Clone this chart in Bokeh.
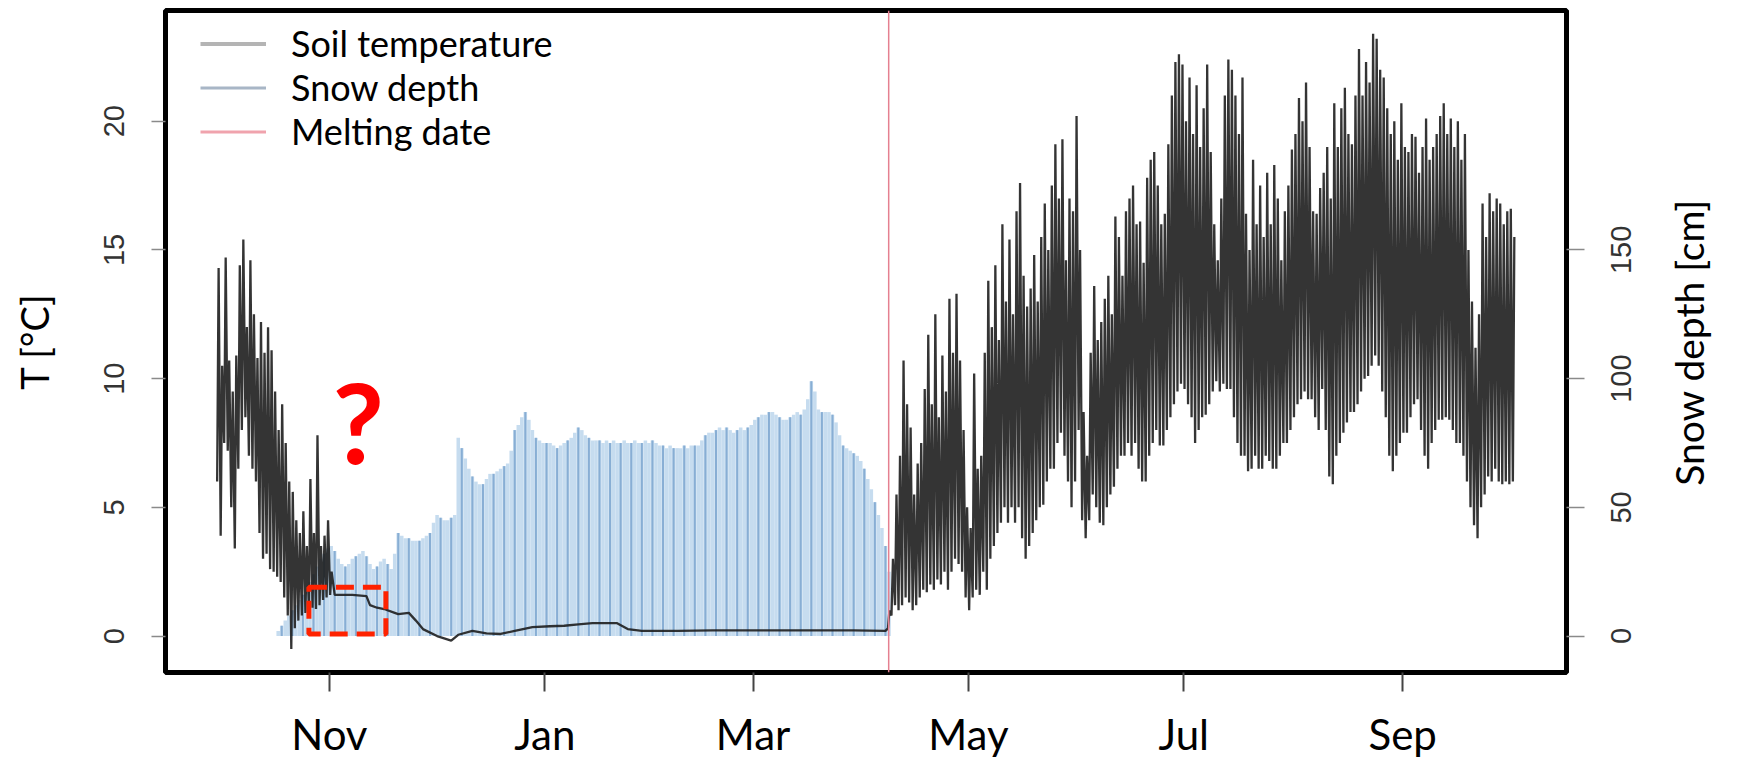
import math
import datetime as dt
from bokeh.plotting import figure
from bokeh.models import (Range1d, LinearAxis, FixedTicker, DatetimeTickFormatter,
                          Span, Label, BoxAnnotation, Legend, LegendItem, ColumnDataSource)
from bokeh.embed import file_html
from bokeh.resources import INLINE

# ---------------- data ----------------
START = dt.datetime(2014, 9, 30)          # day 0 of the series

# Soil temperature, autumn: daily max / min (°C), days 0..32
autumn_hi = [14.3, 10.5, 14.7, 10.7, 9.5, 10.9, 14.4, 15.4, 12.0, 14.6,
             12.5, 10.8, 12.2, 11.0, 12.0, 11.1, 9.5, 8.0, 9.0, 7.5,
             6.0, 5.6, 4.5, 4.0, 4.85, 3.5, 6.1, 4.0, 7.8, 3.5,
             3.9, 4.5, 2.5]
autumn_lo = [6.0, 3.9, 7.5, 7.2, 5.0, 3.4, 6.5, 8.0, 8.5, 7.0,
             6.5, 6.0, 4.0, 3.0, 3.2, 2.6, 2.5, 2.3, 2.1, 1.5,
             0.8, -0.5, 0.3, 0.6, 0.8, 0.9, 1.0, 1.1, 1.05, 1.2,
             1.4, 1.5, 1.6]

# Soil temperature under the snow (°C), sampled days
winter_days = [33, 38, 42, 43, 45, 47, 50, 51, 54, 56, 58, 62, 66, 68, 72, 76,
               80, 84, 89, 94, 98, 102, 106, 110, 113, 116, 120, 130, 140, 150,
               160, 170, 180, 189]
winter_t = [1.6, 1.6, 1.55, 1.2, 1.1, 1.05, 0.9, 0.85, 0.9, 0.6, 0.27, 0.0, -0.18,
            0.05, 0.2, 0.1, 0.08, 0.2, 0.35, 0.38, 0.4, 0.45, 0.5, 0.5, 0.5, 0.27,
            0.2, 0.2, 0.22, 0.22, 0.22, 0.22, 0.22, 0.2]

# Soil temperature after melt: daily max / min (°C), from day 190
SUMMER_START = 190
summer_hi = [1.0, 3.0, 5.5, 7.0, 10.7, 9.0, 8.1, 5.5, 6.7, 7.5,
             9.6, 11.7, 9.0, 12.5, 8.5, 10.9, 9.5, 13.1, 11.0, 13.3,
             10.7, 8.0, 5.0, 4.2, 10.2, 6.5, 7.0, 11.0, 13.8, 12.0,
             14.4, 11.5, 16.0, 13.0, 15.4, 12.5, 16.5, 17.6, 14.0, 12.8,
             13.5, 14.8, 13.0, 15.5, 16.8, 15.0, 17.5, 19.1, 17.0, 19.3,
             14.6, 17.0, 16.5, 20.2, 15.0, 8.7, 7.0, 11.0, 13.6, 11.5,
             12.2, 13.1, 14.0, 12.5, 16.3, 15.5, 14.0, 16.5, 17.0, 17.5,
             16.0, 16.1, 14.5, 17.8, 18.5, 18.8, 17.5, 16.0, 16.4, 19.1,
             21.0, 22.3, 22.6, 22.2, 20.0, 21.7, 19.5, 21.4, 19.0, 20.5,
             22.2, 18.8, 16.0, 14.6, 17.0, 21.0, 22.4, 22.0, 21.0, 19.5,
             21.7, 16.4, 15.0, 18.5, 16.0, 17.5, 15.5, 18.0, 16.0, 18.3,
             17.0, 14.6, 16.5, 17.5, 18.9, 19.5, 20.9, 20.0, 21.5, 19.0,
             16.5, 16.4, 17.4, 18.0, 19.0, 17.0, 20.7, 19.0, 20.5, 21.3,
             19.5, 19.1, 21.0, 22.8, 21.0, 22.3, 21.5, 23.4, 23.2, 22.0,
             21.7, 20.5, 19.5, 20.0, 18.5, 20.7, 19.0, 18.8, 19.5, 19.4,
             18.0, 19.0, 20.1, 18.5, 19.0, 19.5, 20.2, 20.7, 19.5, 20.1,
             19.0, 20.0, 18.5, 19.5, 15.0, 13.0, 11.2, 12.5, 16.8, 15.5,
             17.2, 16.5, 17.0, 16.8, 16.0, 16.5, 16.6, 15.5]
summer_lo = [0.3, 0.8, 1.2, 1.0, 1.2, 1.5, 1.3, 1.0, 1.2, 1.5,
             1.8, 1.7, 2.0, 1.8, 2.2, 2.0, 2.5, 1.8, 2.5, 3.0,
             2.8, 2.5, 1.5, 1.0, 1.5, 1.8, 1.6, 2.5, 1.8, 3.0,
             3.5, 4.0, 4.4, 5.0, 4.4, 5.0, 4.4, 5.0, 3.8, 3.0,
             3.5, 4.0, 4.5, 5.0, 5.1, 6.0, 6.5, 6.5, 7.5, 7.9,
             7.0, 6.0, 5.0, 6.0, 8.0, 4.5, 3.8, 4.5, 5.5, 5.0,
             4.4, 4.3, 5.0, 5.5, 5.8, 6.5, 7.0, 7.0, 7.5, 7.0,
             7.5, 6.5, 6.0, 6.0, 7.0, 7.5, 8.0, 7.4, 7.4, 8.0,
             8.5, 9.0, 9.5, 9.8, 9.6, 9.0, 8.5, 7.5, 8.0, 8.5,
             8.6, 9.0, 9.5, 9.9, 9.5, 9.8, 9.6, 9.6, 8.5, 7.5,
             7.0, 7.0, 6.4, 6.5, 7.0, 6.5, 6.5, 7.0, 6.8, 6.5,
             6.5, 7.0, 7.5, 7.5, 8.0, 8.5, 9.0, 9.2, 9.5, 9.2,
             9.2, 8.5, 8.0, 9.6, 8.0, 6.2, 5.9, 7.0, 7.5, 7.9,
             8.3, 8.7, 8.7, 9.0, 9.5, 10.0, 10.1, 10.5, 10.9, 10.5,
             9.5, 8.5, 7.0, 6.4, 7.0, 7.5, 7.9, 7.9, 8.5, 9.0,
             9.2, 8.0, 7.0, 6.5, 7.5, 8.0, 8.4, 8.4, 8.5, 8.4,
             8.0, 7.5, 7.5, 7.0, 6.0, 5.0, 4.3, 3.8, 5.0, 5.5,
             6.2, 6.0, 6.5, 6.0, 5.9, 6.0, 5.9, 6.0]

# Snow depth (cm), daily from day 17
SNOW_START = 17
snow_cm = [2, 4, 6, 8, 10, 12, 14, 16, 18, 21, 24, 27, 30, 32, 34,
           35, 33, 30, 28, 27, 28, 30, 31, 32, 33,
           31, 28, 26, 27, 29, 30, 28, 26, 32, 40,
           39, 38, 38, 37, 37, 37, 38, 39, 40, 44,
           47, 46, 45, 45, 46, 47, 77, 73, 69, 65,
           62, 60, 59, 59, 61, 63, 63, 64, 65, 66,
           67, 72, 80, 82, 85, 87, 84, 80, 77, 76,
           75, 75, 75, 74, 73, 74, 75, 76, 77, 79,
           81, 80, 78, 77, 76, 76, 76, 75, 76, 75,
           76, 75, 75, 76, 75, 75, 76, 75, 75, 76,
           75, 76, 75, 74, 74, 73, 74, 73, 73, 73,
           74, 73, 74, 74, 74, 76, 78, 79, 79, 80,
           81, 80, 81, 80, 79, 80, 81, 80, 81, 82,
           84, 85, 86, 86, 87, 87, 86, 85, 84, 84,
           85, 86, 87, 86, 88, 92, 99, 95, 88, 87,
           87, 87, 86, 83, 78, 74, 73, 72, 71, 70,
           68, 65, 61, 57, 52, 47, 42, 35, 25]

MELT_DATE = dt.datetime(2015, 4, 8, 10)
month_ticks = [dt.datetime(2014, 11, 1), dt.datetime(2015, 1, 1), dt.datetime(2015, 3, 1),
               dt.datetime(2015, 5, 1), dt.datetime(2015, 7, 1), dt.datetime(2015, 9, 1)]
t_ticks = [0, 5, 10, 15, 20]
snow_ticks = [0, 50, 100, 150]
legend_labels = ["Soil temperature", "Snow depth", "Melting date"]
left_title = "T [°C]"
right_title = "Snow depth [cm]"

# annotation placement (question mark, dashed box)
Q_DAY, Q_T = 40.2, 8.36
BOX_DAYS = (26.2, 48.0)
BOX_T = (0.08, 1.90)

# ---------------- helpers ----------------
EPOCH = dt.datetime(1970, 1, 1)


def ms(d):
    return (d - EPOCH).total_seconds() * 1000.0


def at(day, hour=0.0):
    return START + dt.timedelta(days=day, hours=hour)


t_x, t_y = [], []
for i, (lo, hi) in enumerate(zip(autumn_lo, autumn_hi)):
    t_x += [at(i, 5), at(i, 15)]
    t_y += [lo, hi]
for d, v in zip(winter_days, winter_t):
    t_x.append(at(d, 12))
    t_y.append(v)
for i, (lo, hi) in enumerate(zip(summer_lo, summer_hi)):
    t_x += [at(SUMMER_START + i, 5), at(SUMMER_START + i, 15)]
    t_y += [lo, hi]

snow_x = [at(SNOW_START + i, 12) for i in range(len(snow_cm))]
snow_src = ColumnDataSource(dict(x=snow_x, top=snow_cm))
stripe_idx = [i for i in range(len(snow_cm)) if i % 3 == 1]
stripe_src = ColumnDataSource(dict(x=[snow_x[i] for i in stripe_idx],
                                   y0=[0] * len(stripe_idx),
                                   y1=[snow_cm[i] for i in stripe_idx]))

# ---------------- figure ----------------
Y0, Y1 = -1.416, 24.30
FRAME_H = 663
p = figure(width=1738, height=761, output_backend="svg", toolbar_location=None,
           x_axis_type="datetime",
           x_range=Range1d(ms(at(-14.42)), ms(at(382.4))),
           y_range=Range1d(Y0, Y1),
           min_border_left=165, min_border_right=171, min_border_top=10, min_border_bottom=88)
p.extra_y_ranges = {"snow": Range1d(Y0 * 10, Y1 * 10)}
p.xgrid.visible = False
p.ygrid.visible = False
p.background_fill_color = "white"
p.border_fill_color = "white"
p.outline_line_color = "black"
p.outline_line_width = 5

# snow depth bars
p.vbar(x="x", top="top", bottom=0, width=86400000, source=snow_src, y_range_name="snow",
       fill_color="#c6dcef", line_color=None)
p.segment(x0="x", y0="y0", x1="x", y1="y1", source=stripe_src, y_range_name="snow",
          line_color="#88aed4", line_width=2)

# soil temperature
p.line(t_x, t_y, line_color="#1e1e1e", line_width=2.3, line_alpha=0.9)

# melting date
p.add_layout(Span(location=ms(MELT_DATE), dimension="height",
                  line_color="#e58090", line_width=1.5))

# legend (pale samples as in the original); the sample renderers lie outside the view
off_x = [ms(at(-200)), ms(at(-199))]
off_y = [-50, -50]
r1 = p.line(off_x, off_y, line_color="#b4b4b4", line_width=4)
r2 = p.line(off_x, off_y, line_color="#a8b6c6", line_width=3)
r3 = p.line(off_x, off_y, line_color="#f0a3ad", line_width=3)
leg = Legend(items=[LegendItem(label=legend_labels[0], renderers=[r1]),
                    LegendItem(label=legend_labels[1], renderers=[r2]),
                    LegendItem(label=legend_labels[2], renderers=[r3])],
             location=(35, 519), border_line_color=None, background_fill_alpha=0,
             padding=0, margin=0, spacing=0, glyph_width=66, glyph_height=43,
             label_height=43, label_standoff=25,
             label_text_font="Lato", label_text_font_size="36px", label_text_color="black")
p.add_layout(leg)

# annotations
p.add_layout(Label(x=ms(at(Q_DAY)), y=Q_T, text="?", text_font="Lato", text_font_size="112px",
                   text_font_style="bold",
                   text_color="#ff0000", text_align="center", text_baseline="middle"))
p.add_layout(BoxAnnotation(left=ms(at(BOX_DAYS[0])), right=ms(at(BOX_DAYS[1])),
                           bottom=BOX_T[0], top=BOX_T[1], fill_alpha=0,
                           line_color="#ff2200", line_alpha=1.0, line_width=5,
                           line_dash="18 9"))

# x axis
xa = p.xaxis[0]
xa.ticker = FixedTicker(ticks=[ms(d) for d in month_ticks])
xa.formatter = DatetimeTickFormatter(days="%b", months="%b", years="%b", hours="%b")
xa.axis_line_color = None
xa.major_tick_out = 19
xa.major_tick_in = 0
xa.major_tick_line_color = "#444444"
xa.major_tick_line_width = 2
xa.minor_tick_line_color = None
xa.major_label_standoff = 17
xa.major_label_text_font = "Lato"
xa.major_label_text_font_size = "42px"
xa.major_label_text_color = "black"

# left axis
ya = p.yaxis[0]
ya.ticker = FixedTicker(ticks=t_ticks)
ya.axis_line_color = None
ya.major_tick_out = 14
ya.major_tick_in = 0
ya.major_tick_line_color = "#8a8a8a"
ya.major_tick_line_width = 1.5
ya.minor_tick_line_color = None
ya.major_label_orientation = "vertical"
ya.major_label_standoff = 27
ya.major_label_text_font = "Liberation Sans"
ya.major_label_text_font_size = "29px"
ya.major_label_text_color = "#333333"
ya.axis_label = left_title
ya.axis_label_standoff = 45
ya.axis_label_text_font = "Lato"
ya.axis_label_text_font_size = "38px"
ya.axis_label_text_font_style = "normal"
ya.axis_label_text_color = "black"

# ---- right side: snow-depth ticks with bottom-to-top labels, then the title ----
CM_PX = FRAME_H / ((Y1 - Y0) * 10)        # pixels per cm on the right scale


def start_of(center_cm, text_px):
    # rotated labels are drawn from their start: shift so that they end up centred
    return round(center_cm - text_px / 2 / CM_PX, 1)


NUM_PX = 29 * 0.556                       # width of one digit
num_pos = [start_of(v, len(str(v)) * NUM_PX) for v in snow_ticks]
rl = LinearAxis(y_range_name="snow",
                ticker=FixedTicker(ticks=num_pos, minor_ticks=snow_ticks),
                major_label_overrides={pos: str(v) for pos, v in zip(num_pos, snow_ticks)})
rl.axis_line_color = None
rl.major_tick_line_color = None
rl.major_tick_out = 18
rl.major_tick_in = 0
rl.minor_tick_out = 18
rl.minor_tick_in = 0
rl.minor_tick_line_color = "#8a8a8a"
rl.minor_tick_line_width = 1.5
rl.major_label_orientation = math.pi / 2
rl.major_label_standoff = 37
rl.major_label_text_font = "Liberation Sans"
rl.major_label_text_font_size = "29px"
rl.major_label_text_color = "#333333"
p.add_layout(rl, "right")

TITLE_CENTER_CM = ((Y1 + Y0) / 2) * 10
title_pos = start_of(TITLE_CENTER_CM, 289)
rt = LinearAxis(y_range_name="snow", ticker=FixedTicker(ticks=[title_pos]),
                major_label_overrides={title_pos: right_title})
rt.axis_line_color = None
rt.major_tick_line_color = None
rt.minor_tick_line_color = None
rt.major_tick_out = 0
rt.major_tick_in = 0
rt.major_label_orientation = math.pi / 2
rt.major_label_standoff = 45
rt.major_label_text_font = "Lato"
rt.major_label_text_font_size = "39px"
rt.major_label_text_color = "black"
p.add_layout(rt, "right")

open("out.html", "w").write(file_html(p, INLINE))
